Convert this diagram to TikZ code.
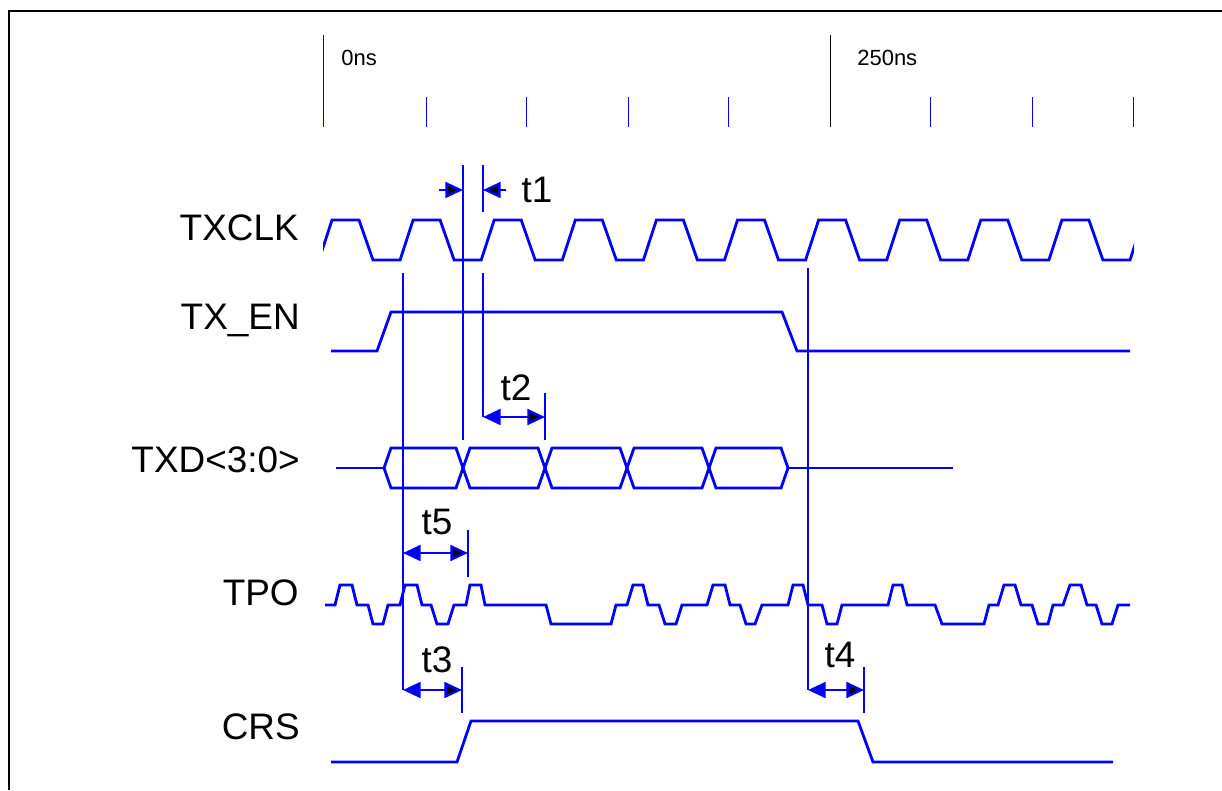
\documentclass[tikz,border=0pt]{standalone}
\usepackage{fontspec}
\setmainfont{Liberation Sans}
\usetikzlibrary{arrows.meta}
\tikzset{
  wave/.style={blue, line width=1.6pt},
  marker/.style={blue, line width=1.4pt},
  tick/.style={blue, line width=0.5pt},
  dimarrow/.style={blue, line width=1.4pt, {Triangle[length=10pt,width=9pt]}-{Triangle[length=10pt,width=9pt,fill=black]}},
  gaparrow/.style={blue, line width=1.4pt, -{Triangle[length=10pt,width=9pt,fill=black]}},
  signal/.style={anchor=east, inner sep=0pt, font=\fontsize{21}{25}\selectfont},
  tlabel/.style={inner sep=0pt, font=\fontsize{21}{25}\selectfont},
  scalelabel/.style={anchor=west, inner sep=0pt, font=\fontsize{12.5}{15}\selectfont},
}
\begin{document}
\begin{tikzpicture}[x=0.02cm, y=-0.02cm]
    \useasboundingbox (0,0) rectangle (1222,790);
    % frame
    \draw[line width=1.2pt] (9,790) -- (9,11) -- (1222,11);
    % time scale
    \draw[tick] (323,35) -- (323,127);
    \draw[line width=0.5pt] (830,35) -- (830,127);
    \foreach \x in {426,526,628,728,930,1032,1133}
        \draw[tick] (\x,97) -- (\x,127);
    \node[scalelabel] (t0ns) at (341,58) {0ns};
    \node[scalelabel] (t250ns) at (857,58) {250ns};
    % signal names
    \node[signal] (txclk) at (299,228) {TXCLK};
    \node[signal] (txen) at (300,320) {TX\_EN};
    \node[signal] (txd) at (300,460) {TXD<3:0>};
    \node[signal] (tpo) at (299,593) {TPO};
    \node[signal] (crs) at (300,727) {CRS};
    % TXCLK
    \begin{scope}
        \clip (323,200) rectangle (1134,280);
        \draw[wave] (237.9,260) \foreach \k in {0,...,11} { -- ++(13,-40) -- ++(27,0) -- ++(14,40) -- ++(27.1,0) };
    \end{scope}
    % TX_EN
    \draw[wave] (331,351) -- (377,351) -- (391,312) -- (782,312) -- (797,351) -- (1130,351);
    % TXD<3:0>
    \draw[wave] (336,468) -- (384,468) (788,468) -- (953,468);
    \foreach \a/\b in {384/463, 463/545, 545/627, 627/709, 709/788}
        \draw[wave] (\a,468) -- (\a+7,448) -- (\b-7,448) -- (\b,468) -- (\b-7,488) -- (\a+7,488) -- cycle;
    % TPO
    \draw[wave] (325,605) -- (335,605) -- (340,585) -- (352,585) -- (357,605) -- (368,605) -- (373,624) -- (383,624)
        -- (388,605) -- (400,605) -- (405,585) -- (417,585) -- (422,605) -- (431,605) -- (437,624) -- (448,624)
        -- (454,605) -- (466,605) -- (470,585) -- (481,585) -- (485,605) -- (546,605) -- (551,624) -- (611,624)
        -- (616,605) -- (627,605) -- (633,585) -- (643,585) -- (648,605) -- (659,605) -- (665,624) -- (676,624)
        -- (682,605) -- (707,605) -- (713,585) -- (725,585) -- (730,605) -- (740,605) -- (746,624) -- (755,624)
        -- (762,605) -- (788,605) -- (793,585) -- (803,585) -- (808,605) -- (822,605) -- (827,624) -- (837,624)
        -- (842,605) -- (888,605) -- (893,585) -- (902,585) -- (907,605) -- (935,605) -- (942,624) -- (984,624)
        -- (989,605) -- (998,605) -- (1004,585) -- (1015,585) -- (1021,605) -- (1032,605) -- (1038,624) -- (1048,624)
        -- (1053,605) -- (1063,605) -- (1070,585) -- (1081,585) -- (1087,605) -- (1096,605) -- (1102,624) -- (1112,624)
        -- (1118,605) -- (1130,605);
    % CRS
    \draw[wave] (331,762) -- (457,762) -- (471,721) -- (858,721) -- (873,762) -- (1113,762);
    % marker lines
    \coordinate (m1top) at (463,165);  \coordinate (m1bot) at (463,440);
    \coordinate (m2top) at (483,165);  \coordinate (m2mid) at (483,212);
    \coordinate (m2low) at (483,273);  \coordinate (t2a) at (483,417);
    \coordinate (m3top) at (403,273);  \coordinate (t3a) at (403,690);
    \coordinate (m4top) at (545,393);  \coordinate (m4bot) at (545,440);
    \coordinate (m5top) at (808,268);  \coordinate (t4a) at (808,690);
    \coordinate (m6top) at (468,530);  \coordinate (m6bot) at (468,577);
    \coordinate (m7top) at (462,667);  \coordinate (m7bot) at (462,713);
    \coordinate (m8top) at (864,667);  \coordinate (m8bot) at (864,713);
    \draw[marker] (m1top) -- (m1bot);
    \draw[marker] (m2top) -- (m2mid) (m2low) -- (t2a);
    \draw[marker] (m3top) -- (t3a);
    \draw[marker] (m4top) -- (m4bot);
    \draw[marker] (m5top) -- (t4a);
    \draw[marker] (m6top) -- (m6bot);
    \draw[marker] (m7top) -- (m7bot);
    \draw[marker] (m8top) -- (m8bot);
    % timing arrows
    \coordinate (t1l) at (439,190);  \coordinate (t1r) at (506,190);
    \draw[gaparrow] (t1l) -- (m1top |- t1l);
    \draw[gaparrow] (t1r) -- (m2top |- t1r);
    \draw[dimarrow] (t2a) -- (m4top |- t2a);
    \draw[dimarrow] (m3top |- 0,553) -- (m6top |- 0,553);
    \draw[dimarrow] (t3a) -- (m7top |- t3a);
    \draw[dimarrow] (t4a) -- (m8top |- t4a);
    \node[tlabel] (t1) at (537,190) {t1};
    \node[tlabel] (t2) at (516,388) {t2};
    \node[tlabel] (t5) at (437,522) {t5};
    \node[tlabel] (t3) at (437,660) {t3};
    \node[tlabel] (t4) at (840,655) {t4};
\end{tikzpicture}
\end{document}
